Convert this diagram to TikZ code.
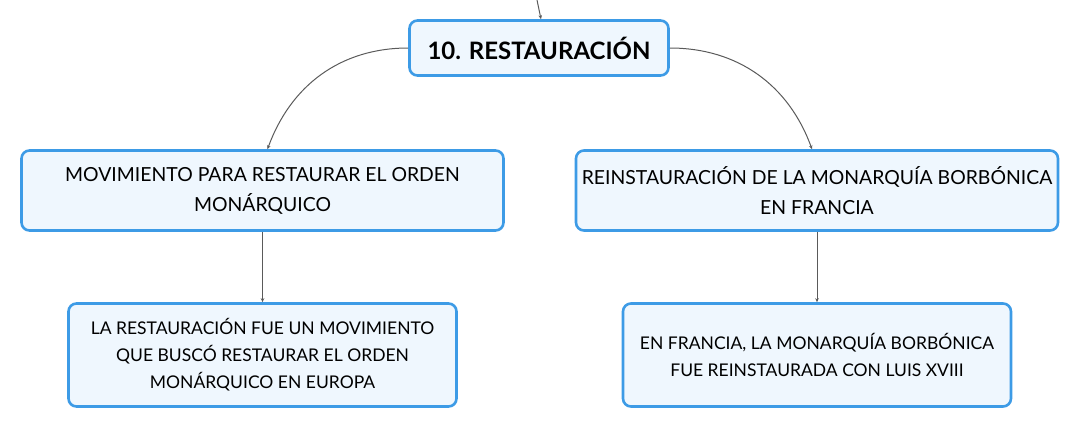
\documentclass[tikz,border=0pt]{standalone}
\usepackage{fontspec}
\setmainfont{Lato}
\usepackage{xcolor}
\usepackage{tikz}
\usetikzlibrary{arrows.meta, positioning}
\definecolor{boxline}{HTML}{3D9BE6}
\definecolor{boxfill}{HTML}{EFF7FE}
\definecolor{linkgray}{HTML}{5A5A5A}
\tikzstyle{topic} = [rectangle, rounded corners=8pt, draw=boxline, line width=2.6pt, fill=boxfill, minimum width=259pt, minimum height=55pt, text centered, font=\fontsize{24}{28}\selectfont\bfseries]
\tikzstyle{subtopic} = [rectangle, rounded corners=8pt, draw=boxline, line width=2.6pt, fill=boxfill, minimum width=482pt, minimum height=80pt, align=center, font=\fontsize{19.4}{30}\selectfont]
\tikzstyle{detail} = [rectangle, rounded corners=8pt, draw=boxline, line width=2.6pt, fill=boxfill, minimum width=388pt, minimum height=103pt, align=center, font=\fontsize{17.5}{27}\selectfont]
\tikzstyle{arrow} = [draw=linkgray, line width=1pt, -{Stealth[length=4pt, width=3.5pt]}]

\begin{document}
\begin{tikzpicture}[x=1pt, y=-1pt, node distance=150pt]
\useasboundingbox (0,0) rectangle (1081,429);

% Main topic
\node (title) [topic] at (539,48) {10. RESTAURACIÓN};
\coordinate (parent) at (537,0);

% Subtopics
\node (orden) [subtopic, below of=title, xshift=-276.5pt, yshift=7.5pt] {MOVIMIENTO PARA RESTAURAR EL ORDEN\\MONÁRQUICO};
\node (francia) [subtopic, below of=title, xshift=278pt, yshift=7.5pt] {REINSTAURACIÓN DE LA MONARQUÍA BORBÓNICA\\EN FRANCIA};

% Details
\node (europa) [detail, below of=orden, yshift=-14.5pt] {LA RESTAURACIÓN FUE UN MOVIMIENTO\\QUE BUSCÓ RESTAURAR EL ORDEN\\MONÁRQUICO EN EUROPA};
\node (luis) [detail, below of=francia, yshift=-14.5pt] {EN FRANCIA, LA MONARQUÍA BORBÓNICA\\FUE REINSTAURADA CON LUIS XVIII};

% Arrows
\draw [arrow] (parent) -- ([xshift=2pt]title.north);
\draw [arrow] (title.west) to[out=180, in=70] ([xshift=5pt]orden.north);
\draw [arrow] (title.east) to[out=0, in=110] ([xshift=-5pt]francia.north);
\draw [arrow] (orden) -- (europa);
\draw [arrow] (francia) -- (luis);

\end{tikzpicture}
\end{document}
